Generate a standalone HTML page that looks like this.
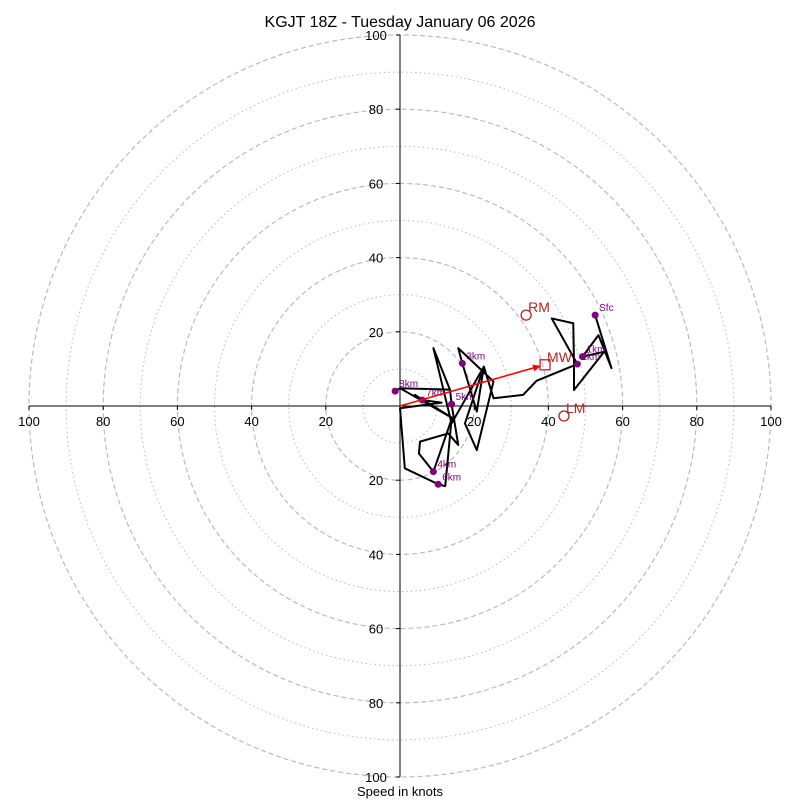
<!DOCTYPE html>
<html><head><meta charset="utf-8"><style>
body{margin:0;background:#fff}
svg text{font-family:"Liberation Sans",sans-serif}
</style></head><body>
<svg id="c" width="800" height="800" viewBox="0 0 800 800">
<text x="400" y="27" text-anchor="middle" font-size="16">KGJT 18Z - Tuesday January 06 2026</text>
<text x="400" y="796" text-anchor="middle" font-size="13">Speed in knots</text>
<g id="rings"></g><g id="axes"></g><g id="trace"></g><g id="marks"></g>
</svg>
<script>
const ringSpeeds=[10,20,30,40,50,60,70,80,90,100];
const tickVals=[20,40,60,80,100];
const traceU=[52.6,57.0,53.5,49.2,55.0,46.9,46.9,46.7,40.9,47.8,36.8,33.2,25.2,22.6,20.7,16.8,15.7,25.2,20.7,17.5,22.6,13.9,9.0,13.5,13.9,15.7,13.0,5.4,5.1,9.0,13.9,12.2,10.3,1.3,0.0,11.2,6.0,4.0,14.4,0.0,13.5,0.0,-1.3];
const traceV=[24.5,10.2,19.1,13.3,14.6,4.3,11.3,22.3,23.6,11.3,6.8,3.0,2.1,10.6,-1.5,11.5,15.6,6.6,-11.9,-4.7,10.6,-4.7,15.6,4.3,0.5,-10.5,-7.4,-9.6,-12.8,-17.7,-3.6,-21.6,-21.1,-16.8,-0.6,0.9,1.6,3.0,-3.4,4.8,4.4,4.8,4.0];
const hgtLabels=["Sfc","1km","2km","3km","4km","5km","6km","7km","8km"];
const hgtU=[52.6,49.2,47.8,16.8,9.0,13.9,10.3,6.0,-1.3];
const hgtV=[24.5,13.3,11.3,11.5,-17.7,0.5,-21.1,1.6,4.0];
const motionLabels=["RM","LM","MW"];
const motionU=[34.0,44.2,39.1];
const motionV=[24.5,-2.7,11.1];
const cx=400,cy=406,k=3.71;
const X=u=>cx+u*k, Y=v=>cy-v*k;
const NS="http://www.w3.org/2000/svg";
function mk(tag,parent,attrs){const e=document.createElementNS(NS,tag);for(const a in attrs)e.setAttribute(a,attrs[a]);document.getElementById(parent).appendChild(e);return e;}
ringSpeeds.forEach(s=>{
 const c=mk('circle','rings',{cx:cx,cy:cy,r:s*k,fill:'none',stroke:'#bbb','stroke-width':s%20==0?1.2:1,'stroke-dasharray':s%20==0?'5,3':'1.5,3'});
 
 
});
let a=mk('line','axes',{x1:X(-100),y1:cy,x2:X(100),y2:cy,stroke:'#000'});


a=mk('line','axes',{x1:cx,y1:Y(100),x2:cx,y2:Y(-100),stroke:'#000'});


tickVals.forEach(t=>{
 [-1,1].forEach(sg=>{
  let tx=mk('text','axes',{x:X(sg*t),y:cy+20,'text-anchor':'middle','font-size':13});tx.textContent=t;
  
  
  mk('line','axes',{x1:X(sg*t),y1:cy,x2:X(sg*t),y2:cy+4,stroke:'#000'});
  let ty=mk('text','axes',{x:cx-24,y:Y(sg*t)+5,'text-anchor':'middle','font-size':13});ty.textContent=t;
  
  
  mk('line','axes',{x1:cx-4,y1:Y(sg*t),x2:cx,y2:Y(sg*t),stroke:'#000'});
 });
});
const pl=mk('polyline','trace',{points:traceU.map((u,i)=>X(u)+','+Y(traceV[i])).join(' '),fill:'none',stroke:'#000','stroke-width':2,'stroke-linejoin':'round'});


hgtLabels.forEach((l,i)=>{
 const d=mk('circle','marks',{cx:X(hgtU[i]),cy:Y(hgtV[i]),r:3.5,fill:'purple'});
 
 
 const t=mk('text','marks',{x:X(hgtU[i])+4,y:Y(hgtV[i])-4,'font-size':10,fill:'purple'});t.textContent=l;
 
 
});
const mw=2;
const ar=mk('line','marks',{x1:cx,y1:cy,x2:X(motionU[mw])-6,y2:Y(motionV[mw])+1.5,stroke:'red','stroke-width':1.6});


(function(){const x2=X(motionU[mw])-4,y2=Y(motionV[mw])+1,ang=Math.atan2(y2-cy,x2-cx),L=8,W=3.5;
 const p=[[x2,y2],[x2-L*Math.cos(ang)+W*Math.sin(ang),y2-L*Math.sin(ang)-W*Math.cos(ang)],[x2-L*Math.cos(ang)-W*Math.sin(ang),y2-L*Math.sin(ang)+W*Math.cos(ang)]];
 const h=mk('polygon','marks',{points:p.map(q=>q.join(',')).join(' '),fill:'red'});
 
 })();
motionLabels.forEach((l,i)=>{
 let m;
 if(l==="MW") m=mk('rect','marks',{x:X(motionU[i])-5,y:Y(motionV[i])-5,width:10,height:10,fill:'none',stroke:'#b22','stroke-width':1.3});
 else m=mk('circle','marks',{cx:X(motionU[i]),cy:Y(motionV[i]),r:5,fill:'none',stroke:'#b22','stroke-width':1.3});
 
 
 const t=mk('text','marks',{x:X(motionU[i])+2,y:Y(motionV[i])-3,'font-size':14,fill:'#b22'});t.textContent=l;
 
 
});
</script>
</body></html>
